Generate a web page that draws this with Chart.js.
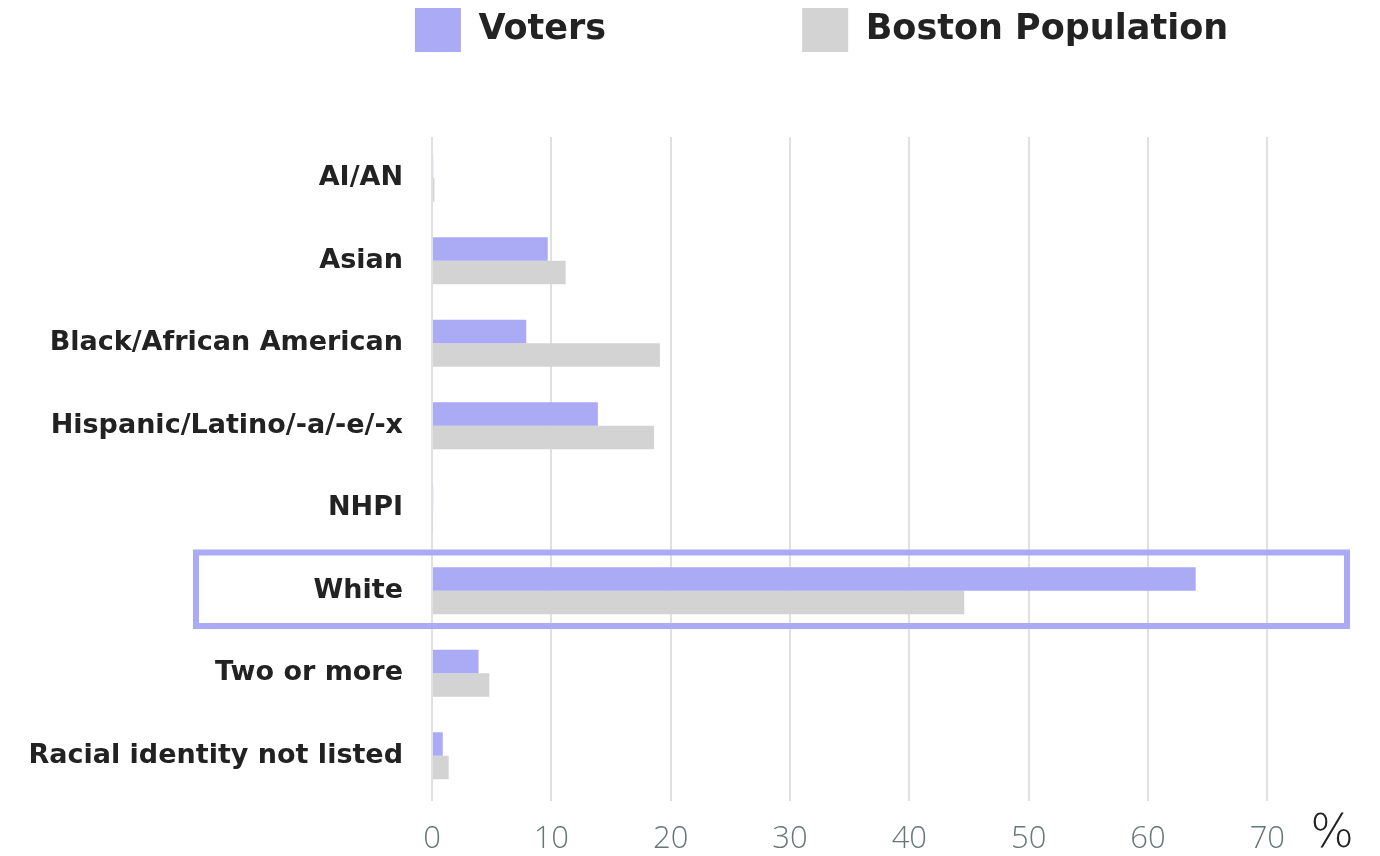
<!DOCTYPE html>
<html>
<head>
<meta charset="utf-8">
<script src="https://cdn.jsdelivr.net/npm/chart.js@4/dist/chart.umd.min.js"></script>
<style>
  html, body { margin: 0; padding: 0; background: #fff; }
  #wrap { width: 1380px; height: 856px; }
</style>
</head>
<body>
<div id="wrap"><canvas id="raceChart"></canvas></div>
<script>
const categories = ['AI/AN', 'Asian', 'Black/African American', 'Hispanic/Latino/-a/-e/-x',
  'NHPI', 'White', 'Two or more', 'Racial identity not listed'];
const voters = [0.1, 9.7, 7.9, 13.9, 0.1, 64.0, 3.9, 0.9];
const bostonPop = [0.2, 11.2, 19.1, 18.6, 0.05, 44.6, 4.8, 1.4];
const xTicks = [0, 10, 20, 30, 40, 50, 60, 70];
const xMax = 75;
const unitLabel = '%';
const highlighted = 'White';

const purple = '#aaaaf5';
const grey = '#d3d3d3';
const legendGap = 196;

// box around the highlighted row
const highlightBox = {
  id: 'highlightBox',
  afterDatasetsDraw(chart) {
    const { ctx, chartArea, scales } = chart;
    const i = categories.indexOf(highlighted);
    const top = scales.y.getPixelForValue(i - 0.5) + 3;
    const bottom = scales.y.getPixelForValue(i + 0.5) - 6;
    const left = chartArea.left - 236;
    ctx.save();
    ctx.strokeStyle = purple;
    ctx.lineWidth = 6;
    ctx.strokeRect(left, top, chart.width - 33 - left, bottom - top);
    ctx.restore();
  }
};

// the % sign after the last tick
const unitSign = {
  id: 'unitSign',
  afterDraw(chart) {
    const { ctx, chartArea, scales } = chart;
    ctx.save();
    ctx.fillStyle = '#222';
    ctx.font = '200 46px "DejaVu Sans"';
    ctx.textAlign = 'center';
    ctx.textBaseline = 'middle';
    ctx.fillText(unitLabel, scales.x.getPixelForValue(xMax) + 5, chartArea.bottom + 38);
    ctx.restore();
  }
};

// legend: extra room under it and moved into place
const legendTweak = {
  id: 'legendTweak',
  beforeInit(chart) {
    const fit = chart.legend.fit;
    chart.legend.fit = function () {
      fit.call(this);
      this.height = 137;
    };
  },
  afterLayout(chart) {
    chart.legend.top = 8 - legendGap;
    chart.legend.left += 151;
    chart.legend.right += 151;
  }
};

new Chart(document.getElementById('raceChart'), {
  type: 'bar',
  data: {
    labels: categories,
    datasets: [
      { label: 'Voters', data: voters, backgroundColor: purple },
      { label: 'Boston Population', data: bostonPop, backgroundColor: grey }
    ]
  },
  options: {
    indexAxis: 'y',
    responsive: true,
    maintainAspectRatio: false,
    animation: false,
    layout: { padding: { left: 14, right: 53, top: 0, bottom: 0 } },
    datasets: { bar: { categoryPercentage: 0.57, barPercentage: 1.0 } },
    plugins: {
      tooltip: { enabled: false },
      legend: {
        position: 'top',
        labels: {
          boxWidth: 46,
          boxHeight: 44,
          padding: legendGap,
          color: '#222',
          font: { family: 'DejaVu Sans', size: 35, weight: 'bold' }
        }
      }
    },
    scales: {
      x: {
        min: 0,
        max: xMax,
        afterBuildTicks(scale) {
          scale.ticks = xTicks.map(v => ({ value: v }));
        },
        afterFit(scale) {
          scale.height = 59;
        },
        ticks: {
          padding: 20,
          color: '#687676',
          font: { family: 'Open Sans', size: 31, weight: '300' }
        },
        grid: {
          color: '#e0e0e0',
          lineWidth: 2,
          tickLength: 4
        },
        border: { display: false }
      },
      y: {
        afterFit(scale) {
          scale.width = 418;
        },
        ticks: {
          padding: 21,
          color: '#222',
          font: { family: 'DejaVu Sans', size: 27, weight: 'bold' }
        },
        grid: { display: false },
        border: { display: false }
      }
    }
  },
  plugins: [highlightBox, unitSign, legendTweak]
});
</script>
</body>
</html>
